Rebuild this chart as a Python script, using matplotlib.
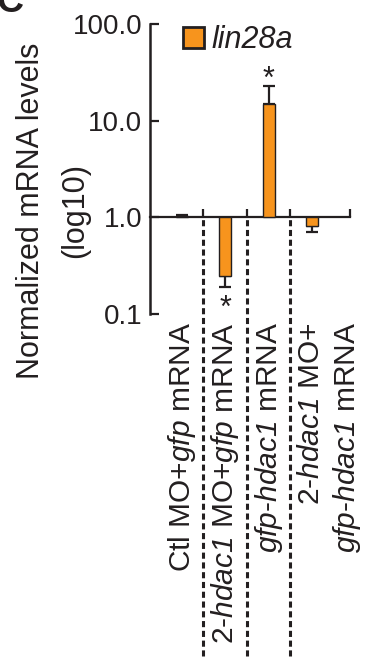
import numpy as np
import matplotlib
matplotlib.use("Agg")
import matplotlib.pyplot as plt
import matplotlib.transforms as mtransforms
from matplotlib.patches import Patch

plt.rcParams['font.family'] = ['Liberation Sans', 'DejaVu Sans']
plt.rcParams['mathtext.fontset'] = 'custom'
# only italic pieces are written in math, so digits should be italic too
plt.rcParams['mathtext.rm'] = 'Liberation Sans:italic'
plt.rcParams['mathtext.it'] = 'Liberation Sans:italic'

# data
groups = ["Ctl MO+$\\it{gfp}$ mRNA",
          "2-$\\it{hdac1}$ MO+$\\it{gfp}$ mRNA",
          "$\\it{gfp}$-$\\it{hdac1}$ mRNA",
          "2-$\\it{hdac1}$ MO+\n$\\it{gfp}$-$\\it{hdac1}$ mRNA"]
values = [1.03, 0.25, 14.9, 0.81]
err_low = [1.03, 0.19, 14.9, 0.71]
err_high = [1.06, 0.25, 22.6, 0.81]
signif = [False, True, True, False]
yticks = [0.1, 1.0, 10.0, 100.0]
ytick_labels = ["0.1", "1.0", "10.0", "100.0"]
series_name = "lin28a"

dark = '#231f20'
orange = '#f7941d'

W, H = 371, 660
fig = plt.figure(figsize=(W / 100, H / 100), dpi=100)
ax = fig.add_axes([150 / W, 1 - 314 / H, 200 / W, 290 / H])

x = np.arange(len(values))
vals = np.array(values)
yerr = [vals - np.array(err_low), np.array(err_high) - vals]

# bars grow from 1.0 (log axis baseline)
ax.bar(x, vals - 1.0, bottom=1.0, width=0.27, color=orange,
       edgecolor=dark, linewidth=1.0, zorder=3)
ax.errorbar(x, vals, yerr=yerr, fmt='none', ecolor=dark, elinewidth=1.6,
            capsize=4.5, capthick=1.6, zorder=2)

ax.set_yscale('log')
ax.set_ylim(0.1, 100)
ax.set_xlim(-0.73, 3.87)
ax.yaxis.set_major_locator(matplotlib.ticker.FixedLocator(yticks))
ax.yaxis.set_minor_locator(matplotlib.ticker.NullLocator())
ax.set_yticklabels(ytick_labels)
ax.tick_params(axis='y', direction='in', length=6.5, width=1.6,
               labelsize=20, colors=dark, pad=5.5)

# baseline at 1.0 with small divider ticks
for s in ['top', 'right']:
    ax.spines[s].set_visible(False)
ax.spines['left'].set_linewidth(1.8)
ax.spines['left'].set_color(dark)
ax.spines['bottom'].set_position(('data', 1.0))
ax.spines['bottom'].set_linewidth(1.6)
ax.spines['bottom'].set_color(dark)
ax.set_xticks([0.5, 1.5, 2.5, 3.87])
ax.set_xticklabels([])
ax.tick_params(axis='x', direction='in', length=5.5, width=1.6, colors=dark)

# dashed separators running down through the labels
ybase = 1 / 3
for xd in [0.5, 1.5, 2.5]:
    ax.axvline(xd, ymin=-1.18, ymax=ybase, color=dark, lw=2.2,
               linestyle=(0, (2.0, 1.2)), clip_on=False, zorder=1)

# category labels
trans = mtransforms.blended_transform_factory(ax.transData, ax.transAxes)
shifts = [0, 0, 0, 18]
for xi, lab, sh in zip(x, groups, shifts):
    t = mtransforms.offset_copy(trans, fig=fig, x=sh, y=0, units='dots')
    ax.text(xi, -0.028, lab, transform=t, rotation=90, ha='center',
            va='top', fontsize=21.5, color=dark, multialignment='right',
            linespacing=1.25)

# significance stars
for xi, lo, hi, v, s in zip(x, err_low, err_high, values, signif):
    if not s:
        continue
    if v > 1:
        ax.annotate('*', (xi, hi), xytext=(0, -1), textcoords='offset pixels',
                    ha='center', va='baseline', fontsize=22, color=dark)
    else:
        ax.annotate('*', (xi, lo), xytext=(0, -7), textcoords='offset pixels',
                    ha='center', va='top', fontsize=22, color=dark)

# legend
h = Patch(facecolor=orange, edgecolor=dark, linewidth=2)
leg = fig.legend([h], [series_name], loc='upper left',
                 bbox_to_anchor=(183 / W, 1 - 25 / H), frameon=False,
                 borderpad=0, borderaxespad=0, handlelength=0.68,
                 handleheight=0.7, handletextpad=0.25,
                 prop={'size': 22, 'style': 'italic'})
for t in leg.get_texts():
    t.set_color(dark)

# y label (two lines)
fig.text(31 / W, 1 - 211 / H, "Normalized mRNA levels", rotation=90,
         ha='center', va='center', fontsize=22, color=dark)
fig.text(75 / W, 1 - 211 / H, "(log10)", rotation=90,
         ha='center', va='center', fontsize=22, color=dark)

# panel letter
fig.text(-3 / W, 1 - 12 / H, "C", fontsize=27, fontweight='bold',
         va='baseline', ha='left', color=dark)

fig.savefig("out.png", dpi=100)
